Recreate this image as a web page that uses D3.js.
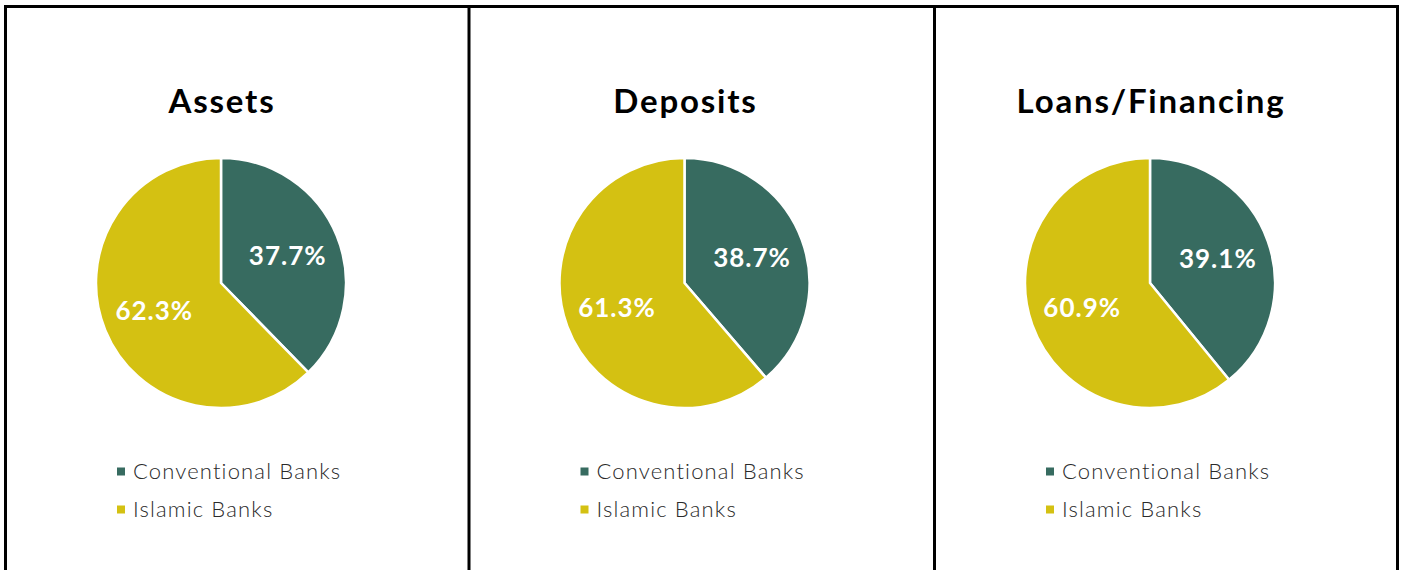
<!DOCTYPE html>
<html>
<head>
<meta charset="utf-8">
<script src="https://cdn.jsdelivr.net/npm/d3@7"></script>
<style>
  html, body { margin: 0; padding: 0; background: #fff; }
  svg { display: block; }
</style>
</head>
<body>
<svg id="chart" width="1403" height="570"></svg>
<script>
// Market share of conventional vs Islamic banks, by balance-sheet item (%)
const panelTitles = ["Assets", "Deposits", "Loans/Financing"];
const seriesNames = ["Conventional Banks", "Islamic Banks"];
const conventionalShare = [37.7, 38.7, 39.1];
const islamicShare = [62.3, 61.3, 60.9];

const colors = ["#376b60", "#d4c112"];

const W = 1403, H = 570;
const svg = d3.select("#chart");

// Panel frame edges (x positions of the vertical rules)
const edges = [5.5, 469, 934.5, 1397.5];
const topY = 6.5;

const radius = 125;
const cy = 283;
const labelR = 72;

const pie = d3.pie().sort(null).value(d => d.value);
const arc = d3.arc().innerRadius(0).outerRadius(radius);
const labelArc = d3.arc().innerRadius(labelR).outerRadius(labelR);

panelTitles.forEach((title, i) => {
  const left = edges[i];
  const cx = left + 215.5;
  const g = svg.append("g").attr("transform", `translate(${cx},${cy})`);

  const data = [
    { name: seriesNames[0], value: conventionalShare[i] },
    { name: seriesNames[1], value: islamicShare[i] }
  ];
  const arcs = pie(data);

  g.selectAll("path")
    .data(arcs)
    .join("path")
    .attr("d", arc)
    .attr("fill", (d, j) => colors[j])
    .attr("stroke", "#fff")
    .attr("stroke-width", 2.5)
    .attr("stroke-linejoin", "round");

  g.selectAll("text.val")
    .data(arcs)
    .join("text")
    .attr("class", "val")
    .attr("transform", d => `translate(${labelArc.centroid(d)})`)
    .attr("text-anchor", "middle")
    .attr("dy", "0.36em")
    .attr("fill", "#fff")
    .style("font-family", "Lato, sans-serif")
    .style("font-weight", 700)
    .style("font-size", "26px")
    .style("letter-spacing", "1px")
    .text(d => d.data.value.toFixed(1) + "%");

  // Title
  svg.append("text")
    .attr("x", cx + 1)
    .attr("y", 113)
    .attr("text-anchor", "middle")
    .attr("fill", "#000")
    .style("font-family", "Lato, sans-serif")
    .style("font-weight", 700)
    .style("font-size", "33px")
    .style("letter-spacing", "1.8px")
    .text(title);

  // Legend
  const lg = svg.append("g").attr("transform", `translate(${cx - 104},0)`);
  seriesNames.forEach((name, j) => {
    const y = 471.5 + j * 38;
    lg.append("rect")
      .attr("x", 0).attr("y", y - 4)
      .attr("width", 8).attr("height", 8)
      .attr("fill", colors[j]);
    lg.append("text")
      .attr("x", 16).attr("y", y)
      .attr("dy", "0.35em")
      .attr("fill", "#2a2a2a")
      .style("font-family", "Lato, sans-serif")
      .style("font-weight", 300)
      .style("font-size", "22px")
      .style("letter-spacing", "1.15px")
      .text(name);
  });
});

// Frame: top rule and vertical dividers (open at the bottom)
const frame = svg.append("g").attr("stroke", "#000").attr("stroke-width", 3);
frame.append("line")
  .attr("x1", edges[0] - 1.5).attr("x2", edges[3] + 1.5)
  .attr("y1", topY).attr("y2", topY);
edges.forEach(x => {
  frame.append("line")
    .attr("x1", x).attr("x2", x)
    .attr("y1", topY - 1.5).attr("y2", H);
});
</script>
</body>
</html>
